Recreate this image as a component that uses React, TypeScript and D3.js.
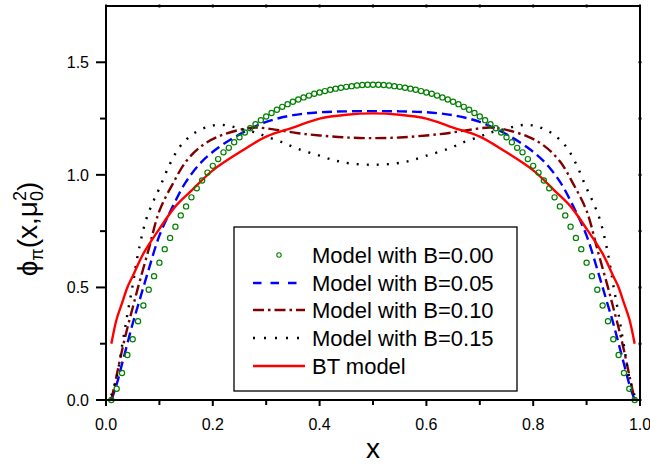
import React from 'react';
import * as d3 from 'd3';

// Model with B=0.00 (open circles), x = 0.01 ... 0.99
const xB000 = [
  0.01, 0.02, 0.03, 0.04, 0.05, 0.06, 0.07, 0.08, 0.09, 0.10,
  0.11, 0.12, 0.13, 0.14, 0.15, 0.16, 0.17, 0.18, 0.19, 0.20,
  0.21, 0.22, 0.23, 0.24, 0.25, 0.26, 0.27, 0.28, 0.29, 0.30,
  0.31, 0.32, 0.33, 0.34, 0.35, 0.36, 0.37, 0.38, 0.39, 0.40,
  0.41, 0.42, 0.43, 0.44, 0.45, 0.46, 0.47, 0.48, 0.49, 0.50,
  0.51, 0.52, 0.53, 0.54, 0.55, 0.56, 0.57, 0.58, 0.59, 0.60,
  0.61, 0.62, 0.63, 0.64, 0.65, 0.66, 0.67, 0.68, 0.69, 0.70,
  0.71, 0.72, 0.73, 0.74, 0.75, 0.76, 0.77, 0.78, 0.79, 0.80,
  0.81, 0.82, 0.83, 0.84, 0.85, 0.86, 0.87, 0.88, 0.89, 0.90,
  0.91, 0.92, 0.93, 0.94, 0.95, 0.96, 0.97, 0.98, 0.99
];
const yB000 = [
  0.00, 0.05, 0.12, 0.20, 0.27, 0.35, 0.42, 0.49, 0.55, 0.61,
  0.67, 0.72, 0.77, 0.82, 0.86, 0.90, 0.94, 0.975, 1.01, 1.04,
  1.07, 1.10, 1.12, 1.145, 1.167, 1.188, 1.207, 1.225, 1.243, 1.259,
  1.275, 1.289, 1.302, 1.314, 1.325, 1.335, 1.344, 1.352, 1.360, 1.366,
  1.372, 1.378, 1.383, 1.387, 1.391, 1.394, 1.397, 1.399, 1.400, 1.400,
  1.400, 1.399, 1.397, 1.394, 1.391, 1.387, 1.383, 1.378, 1.372, 1.366,
  1.360, 1.352, 1.344, 1.335, 1.325, 1.314, 1.302, 1.289, 1.275, 1.259,
  1.243, 1.225, 1.207, 1.188, 1.167, 1.145, 1.12, 1.10, 1.07, 1.04,
  1.01, 0.975, 0.94, 0.90, 0.86, 0.82, 0.77, 0.72, 0.67, 0.61,
  0.55, 0.49, 0.42, 0.35, 0.27, 0.20, 0.12, 0.05, 0.00
];

// Model with B=0.05 (blue dashed)
const xB005 = [0.01, 0.02, 0.03, 0.04, 0.05, 0.06, 0.08, 0.10, 0.125, 0.15, 0.18, 0.21, 0.25, 0.30, 0.35, 0.40, 0.45, 0.50,
  0.55, 0.60, 0.65, 0.70, 0.75, 0.79, 0.82, 0.85, 0.875, 0.90, 0.92, 0.94, 0.95, 0.96, 0.97, 0.98, 0.99];
const yB005 = [0.0, 0.07, 0.16, 0.25, 0.34, 0.42, 0.58, 0.73, 0.86, 0.97, 1.06, 1.12, 1.18, 1.235, 1.265, 1.278, 1.282, 1.283,
  1.282, 1.278, 1.265, 1.235, 1.18, 1.12, 1.06, 0.97, 0.86, 0.73, 0.58, 0.42, 0.34, 0.25, 0.16, 0.07, 0.0];

// Model with B=0.10 (dark red dash-dot)
const xB010 = [0.01, 0.02, 0.03, 0.04, 0.05, 0.06, 0.08, 0.10, 0.125, 0.15, 0.18, 0.21, 0.25, 0.28, 0.32, 0.36, 0.40, 0.45, 0.50,
  0.55, 0.60, 0.64, 0.68, 0.72, 0.75, 0.79, 0.82, 0.85, 0.875, 0.90, 0.92, 0.94, 0.95, 0.96, 0.97, 0.98, 0.99];
const yB010 = [0.0, 0.11, 0.22, 0.32, 0.41, 0.50, 0.67, 0.84, 0.96, 1.06, 1.13, 1.17, 1.20, 1.21, 1.20, 1.185, 1.175, 1.166, 1.163,
  1.166, 1.175, 1.185, 1.20, 1.21, 1.20, 1.17, 1.13, 1.06, 0.96, 0.84, 0.67, 0.50, 0.41, 0.32, 0.22, 0.11, 0.0];

// Model with B=0.15 (black dotted)
const xB015 = [0.01, 0.02, 0.03, 0.04, 0.05, 0.06, 0.075, 0.09, 0.10, 0.12, 0.14, 0.165, 0.19, 0.21, 0.23, 0.25, 0.28, 0.30, 0.33, 0.36, 0.40, 0.43, 0.46, 0.50,
  0.54, 0.57, 0.60, 0.64, 0.67, 0.70, 0.72, 0.75, 0.77, 0.79, 0.81, 0.835, 0.86, 0.88, 0.90, 0.91, 0.925, 0.94, 0.95, 0.96, 0.97, 0.98, 0.99];
const yB015 = [0.02, 0.10, 0.24, 0.38, 0.51, 0.65, 0.80, 0.89, 0.94, 1.05, 1.13, 1.185, 1.213, 1.222, 1.218, 1.205, 1.188, 1.17, 1.145, 1.115, 1.085, 1.063, 1.05, 1.045,
  1.05, 1.063, 1.085, 1.115, 1.145, 1.17, 1.188, 1.205, 1.218, 1.222, 1.213, 1.185, 1.13, 1.05, 0.94, 0.89, 0.80, 0.65, 0.51, 0.38, 0.24, 0.10, 0.02];

// BT model (red solid)
const xBT = [0.01, 0.02, 0.03, 0.04, 0.05, 0.07, 0.10, 0.13, 0.16, 0.20, 0.25, 0.30, 0.35, 0.40, 0.45, 0.50,
  0.55, 0.60, 0.65, 0.70, 0.75, 0.80, 0.84, 0.87, 0.90, 0.93, 0.95, 0.96, 0.97, 0.98, 0.99];
const yBT = [0.25, 0.36, 0.43, 0.50, 0.55, 0.65, 0.76, 0.86, 0.93, 1.02, 1.10, 1.17, 1.21, 1.25, 1.267, 1.273,
  1.267, 1.25, 1.21, 1.17, 1.10, 1.02, 0.93, 0.86, 0.76, 0.65, 0.55, 0.50, 0.43, 0.36, 0.25];

const xTicks = [0, 0.2, 0.4, 0.6, 0.8, 1.0];
const xMinor = [0.1, 0.3, 0.5, 0.7, 0.9];
const yTicks = [0, 0.5, 1.0, 1.5];
const yMinor = [0.25, 0.75, 1.25];

const legendLabels = ['Model with B=0.00', 'Model with B=0.05', 'Model with B=0.10', 'Model with B=0.15', 'BT model'];

const FONT = '"Liberation Sans", Arial, sans-serif';

export default function App() {
  const W = 650, H = 464;
  const left = 106, right = 640, top = 6, bottom = 400;
  const x = d3.scaleLinear().domain([0, 1]).range([left, right]);
  const y = d3.scaleLinear().domain([0, 1.75]).range([bottom, top]);

  const line = (xs: number[], ys: number[]) =>
    d3.line<number>()
      .x((_, i) => x(xs[i]))
      .y((d) => y(d))
      .curve(d3.curveCatmullRom.alpha(0.5))(ys) || '';

  const lines = [
    { d: line(xB005, yB005), color: '#0000ff', dash: '10,5', legDash: '8.5,9' },
    { d: line(xB010, yB010), color: '#800000', dash: '11,4,2.5,4', legDash: '11,4,2.5,4' },
    { d: line(xB015, yB015), color: '#000000', dash: '2,8', legDash: '2,9' },
    { d: line(xBT, yBT), color: '#ff0000', dash: 'none', legDash: 'none' },
  ];

  const legX = 234, legY = 227, legW = 283, legH = 164;
  const rowY = [255, 283, 310, 338, 366];

  return (
    <svg width={W} height={H} style={{ position: 'absolute', left: 0, top: 0, background: '#fff' }}
      fontFamily={FONT}>
      {/* data */}
      {lines.map((l, i) => (
        <path key={i} d={l.d} fill="none" stroke={l.color} strokeWidth={2.4}
          strokeDasharray={l.dash} strokeLinecap="butt" />
      ))}
      {yB000.map((v, i) => (
        <circle key={i} cx={x(xB000[i])} cy={y(v)} r={2.6} fill="none" stroke="#008000" strokeWidth={1.2} />
      ))}

      {/* axes frame */}
      <g stroke="#000" strokeWidth={2} fill="none">
        <line x1={left} y1={top} x2={left} y2={bottom} />
        <line x1={left - 1} y1={bottom} x2={right + 1} y2={bottom} />
        <line x1={left - 1} y1={top} x2={right + 1} y2={top} />
        <line x1={right} y1={top} x2={right} y2={bottom} />
        {xTicks.map((t) => <line key={'xt' + t} x1={x(t)} x2={x(t)} y1={bottom} y2={bottom + 6} />)}
        {xMinor.map((t) => <line key={'xm' + t} x1={x(t)} x2={x(t)} y1={bottom} y2={bottom + 5} />)}
        {yTicks.map((t) => <line key={'yt' + t} x1={left - 10} x2={left} y1={y(t)} y2={y(t)} />)}
        {yMinor.map((t) => <line key={'ym' + t} x1={left - 6} x2={left} y1={y(t)} y2={y(t)} />)}
        {xTicks.concat(xMinor).map((t) => <line key={'xtt' + t} x1={x(t)} x2={x(t)} y1={top - 1.5} y2={top + 1.5} />)}
        {yTicks.concat(yMinor).map((t) => <line key={'ytr' + t} x1={right - 1.5} x2={right + 1.5} y1={y(t)} y2={y(t)} />)}
      </g>

      {/* tick labels */}
      {xTicks.map((t) => (
        <text key={'xl' + t} x={x(t)} y={430} textAnchor="middle" fontSize={16}>{t.toFixed(1)}</text>
      ))}
      {yTicks.map((t) => (
        <text key={'yl' + t} x={89} y={y(t)} dy="0.36em" textAnchor="end" fontSize={16}>{t.toFixed(1)}</text>
      ))}

      {/* axis titles */}
      <text x={373} y={458} textAnchor="middle" fontSize={28}>x</text>
      <text transform="translate(37,229) rotate(-90)" textAnchor="middle" fontSize={28}>
        ϕ<tspan fontSize={18} dy={6}>π</tspan>
        <tspan dy={-6}>(x,μ</tspan>
        <tspan fontSize={18} dy={6}>0</tspan>
        <tspan fontSize={18} dx={-10} dy={-17}>2</tspan>
        <tspan dy={11}>)</tspan>
      </text>

      {/* legend */}
      <rect x={legX} y={legY} width={legW} height={legH} fill="#fff" stroke="#000" strokeWidth={1.3} />
      <circle cx={279} cy={rowY[0]} r={2.2} fill="none" stroke="#008000" strokeWidth={1.1} />
      {lines.map((l, i) => (
        <line key={'lg' + i} x1={253} x2={305} y1={rowY[i + 1]} y2={rowY[i + 1]} stroke={l.color}
          strokeWidth={2.4} strokeDasharray={l.legDash} />
      ))}
      {legendLabels.map((s, i) => (
        <text key={'lt' + i} x={312} y={rowY[i]} dy="0.36em" fontSize={22}>{s}</text>
      ))}
    </svg>
  );
}
